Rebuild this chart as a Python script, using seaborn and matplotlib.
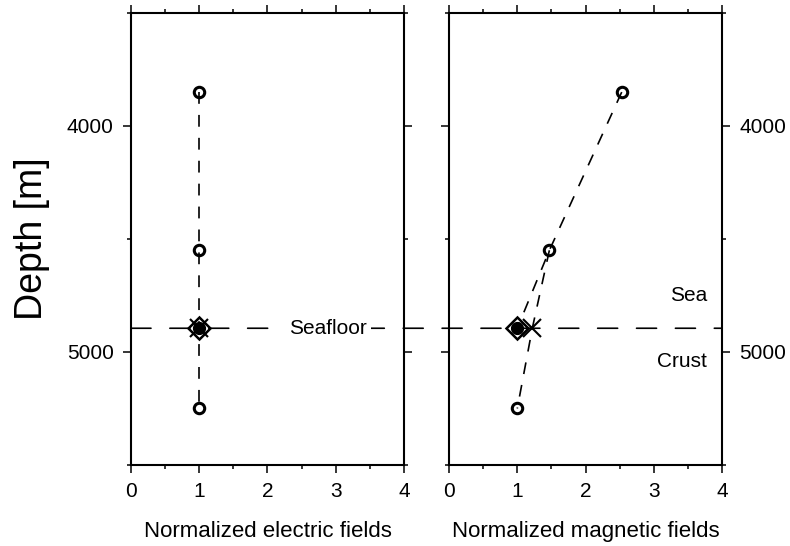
import numpy as np
import pandas as pd
import seaborn as sns
import matplotlib
matplotlib.use('Agg')
from matplotlib import pyplot as plt
from matplotlib.patches import ConnectionPatch
from matplotlib.ticker import MultipleLocator

sns.set_style('ticks')
plt.rcParams['font.family'] = ['Liberation Sans', 'DejaVu Sans']
plt.rcParams['text.color'] = 'k'
plt.rcParams['axes.labelcolor'] = 'k'
plt.rcParams['lines.scale_dashes'] = False

# Observation depths [m] and normalized fields at each receiver
depth_obs = [3850, 4550, 5250]
e_obs = [1.0, 1.0, 1.0]
b_obs = [2.53, 1.47, 1.0]

# Seafloor depth and estimates there: extrapolated (diamond), true (dot), interpolated (cross)
seafloor = 4895
e_extrap, e_true, e_interp = 1.0, 1.0, 1.0
b_extrap, b_true, b_interp = 1.0, 1.0, 1.22

dash_short = (0, (8.5, 8))
dash_long = (0, (14.4, 13.6))

fig = plt.figure(figsize=(7.9, 5.46), dpi=100)
ax1 = fig.add_axes([0.1658, 0.1484, 0.3456, 0.8278])
ax2 = fig.add_axes([0.5684, 0.1484, 0.3456, 0.8278])


def markers(ax, x_obs, extrap, true, interp):
    # measured points: open circles
    sns.lineplot(x=x_obs, y=depth_obs, ax=ax, sort=False, estimator=None,
                 marker='o', linestyle='none', ms=7.5, mfc='none', mec='k',
                 mew=2.2, color='k', zorder=4)
    # seafloor estimates
    sns.lineplot(x=[extrap], y=[seafloor], ax=ax, estimator=None,
                 marker='D', linestyle='none', ms=11, mfc='none', mec='k',
                 mew=1.8, color='k', zorder=5)
    sns.lineplot(x=[true], y=[seafloor], ax=ax, estimator=None,
                 marker='o', linestyle='none', ms=8.5, mfc='k', mec='k',
                 mew=1, color='k', zorder=6)
    sns.lineplot(x=[interp], y=[seafloor], ax=ax, estimator=None,
                 marker='x', linestyle='none', ms=13, mec='k',
                 mew=1.5, color='k', zorder=6)


# Electric field panel
sns.lineplot(x=e_obs, y=depth_obs, ax=ax1, sort=False, estimator=None,
             color='k', lw=1.2, linestyle=dash_short, zorder=3)
markers(ax1, e_obs, e_extrap, e_true, e_interp)

# Magnetic field panel: extrapolation from above and interpolation across seafloor
sns.lineplot(x=[b_obs[0], b_obs[1], b_extrap], y=[depth_obs[0], depth_obs[1], seafloor],
             ax=ax2, sort=False, estimator=None, color='k', lw=1.2,
             linestyle=dash_short, zorder=3)
sns.lineplot(x=[b_obs[1], b_interp, b_obs[2]], y=[depth_obs[1], seafloor, depth_obs[2]],
             ax=ax2, sort=False, estimator=None, color='k', lw=1.2,
             linestyle=dash_short, zorder=3)
markers(ax2, b_obs, b_extrap, b_true, b_interp)

for ax in [ax1, ax2]:
    ax.set_xlim(0, 4)
    ax.set_ylim(5500, 3500)
    ax.xaxis.set_major_locator(MultipleLocator(1))
    ax.xaxis.set_minor_locator(MultipleLocator(0.5))
    ax.yaxis.set_major_locator(MultipleLocator(1000))
    ax.yaxis.set_minor_locator(MultipleLocator(500))
    ax.tick_params(which='both', direction='out', top=True, right=True,
                   width=1.1, labelsize=15, colors='k')
    ax.tick_params(which='major', length=6, pad=6.5)
    ax.tick_params(which='minor', length=3)
    for sp in ax.spines.values():
        sp.set_linewidth(1.5)
        sp.set_color('k')
    ax.set_zorder(2)
    ax.patch.set_visible(False)

ax1.tick_params(labelleft=True, labelright=False)
ax2.tick_params(labelleft=False, labelright=True)

ax1.set_ylabel('Depth [m]', fontsize=27, labelpad=12)
ax1.set_xlabel('Normalized electric fields', fontsize=16, labelpad=14)
ax2.set_xlabel('Normalized magnetic fields', fontsize=16, labelpad=14)
ax2.set_ylabel('')

# Seafloor line running across both panels
con = ConnectionPatch(xyA=(0, seafloor), coordsA='data', axesA=ax1,
                      xyB=(4, seafloor), coordsB='data', axesB=ax2,
                      color='k', lw=1.2, linestyle=dash_long, zorder=1)
fig.add_artist(con)

ax1.text(2.88, seafloor, 'Seafloor', ha='center', va='center', fontsize=15,
         bbox=dict(fc='white', ec='none', pad=3), zorder=7)
ax2.text(3.78, 4750, 'Sea', ha='right', va='center', fontsize=15)
ax2.text(3.78, 5040, 'Crust', ha='right', va='center', fontsize=15)

fig.savefig('out.png', dpi=100)
